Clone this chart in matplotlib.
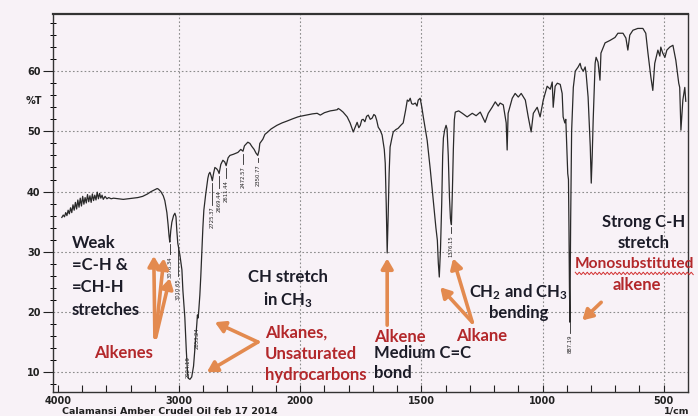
import numpy as np
import matplotlib.pyplot as plt

# IR spectrum, wavenumber (1/cm) vs transmittance (%T)
wavenumber = [
    3967, 3955, 3945, 3935, 3925, 3915, 3905, 3895, 3885, 3875, 3865, 3855,
    3845, 3835, 3825, 3815, 3805, 3795, 3785, 3775, 3765, 3755, 3745, 3735,
    3725, 3715, 3705, 3695, 3685, 3675, 3665, 3655, 3645, 3635, 3625, 3610,
    3595, 3580, 3560, 3540, 3500, 3460, 3420, 3380, 3340, 3300, 3260, 3230,
    3200, 3180, 3170, 3150, 3130, 3117, 3100, 3090, 3082, 3076, 3068, 3059,
    3045, 3034, 3025, 3018, 3010, 2993, 2976, 2968, 2952, 2940, 2930, 2924,
    2910, 2895, 2880, 2865, 2853, 2848, 2842, 2836, 2828, 2820, 2811, 2803,
    2795, 2780, 2770, 2762, 2754, 2745, 2735, 2725, 2715, 2704, 2690, 2679,
    2669, 2655, 2638, 2622, 2611, 2595, 2580, 2550, 2514, 2490, 2472, 2460,
    2432, 2415, 2399, 2380, 2365, 2350, 2340, 2333, 2308, 2291, 2267, 2240,
    2192, 2150, 2110, 2060, 2019, 2000, 1975, 1950, 1930, 1917, 1900, 1876,
    1860, 1847, 1843, 1835, 1823, 1806, 1794, 1781, 1772, 1765, 1758, 1752,
    1746, 1740, 1733, 1726, 1719, 1711, 1703, 1696, 1690, 1684, 1678, 1670,
    1662, 1653, 1649, 1645, 1641, 1637, 1633, 1629, 1622, 1616, 1605, 1596,
    1585, 1575, 1565, 1558, 1552, 1546, 1540, 1534, 1525, 1518, 1513, 1505,
    1498, 1492, 1476, 1463, 1451, 1440, 1434, 1430, 1426, 1421, 1416, 1412,
    1409, 1404, 1398, 1394, 1389, 1384, 1380, 1376, 1372, 1368, 1364, 1360,
    1346, 1331, 1311, 1290, 1274, 1257, 1237, 1224, 1208, 1195, 1183, 1175,
    1162, 1150, 1146, 1142, 1125, 1113, 1100, 1088, 1071, 1059, 1047, 1038,
    1022, 1010, 997, 981, 968, 960, 956, 948, 939, 927, 919, 915,
    908, 904, 900, 896, 893, 891, 889, 887, 884, 880, 873, 865,
    853, 845, 840, 832, 824, 820, 812, 803, 799, 795, 791, 783,
    779, 771, 763, 759, 742, 722, 701, 689, 668, 656, 648, 640,
    627, 607, 586, 574, 565, 553, 545, 537, 524, 516, 512, 504,
    495, 487, 475, 462, 450, 438, 434, 429, 421, 413, 409,
]
transmittance = [
    35.7, 36.1, 35.8, 36.5, 36.0, 36.9, 36.3, 37.3, 36.5, 37.8, 36.9, 38.2,
    37.1, 38.6, 37.4, 38.9, 37.6, 39.2, 37.9, 39.0, 38.1, 39.5, 38.3, 39.3,
    38.2, 39.6, 38.5, 39.4, 38.6, 39.9, 38.8, 39.7, 38.9, 39.4, 38.7, 39.2,
    38.8, 39.0, 38.8, 38.9, 38.8, 38.7, 38.8, 38.9, 39.0, 39.2, 39.6, 40.0,
    40.3, 40.5, 40.4, 40.0, 39.3, 38.5, 36.5, 34.5, 32.6, 31.6, 33.5, 34.9,
    36.0, 36.4, 35.8, 33.5, 31.4, 29.5, 27.0, 23.6, 19.1, 13.7, 10.0, 9.0,
    8.8, 9.2, 11.0, 14.8, 18.0, 19.5, 19.0, 20.5, 22.8, 26.0, 30.3, 34.0,
    36.9, 39.5, 41.0, 42.2, 42.9, 43.2, 42.6, 41.8, 43.0, 44.0, 43.8, 43.5,
    43.0, 44.5, 45.2, 44.9, 44.3, 45.6, 46.0, 46.2, 46.5, 47.0, 46.7, 47.6,
    48.2, 48.0, 47.5, 47.0, 46.4, 46.0, 46.8, 48.0, 48.7, 49.5, 49.9, 50.4,
    51.0, 51.4, 51.7, 52.1, 52.4, 52.5, 52.7, 52.9, 53.0, 52.7, 53.1, 53.4,
    53.5, 53.6, 53.8, 53.6, 53.2, 52.4, 51.4, 49.9, 50.8, 51.5, 50.6, 51.0,
    51.9, 52.0, 51.6, 52.5, 52.7, 52.0, 52.2, 52.8, 52.6, 51.8, 50.7, 50.2,
    49.4, 47.0, 44.7, 38.0, 29.8, 36.0, 43.0, 47.4, 48.8, 49.9, 50.3, 50.5,
    51.0, 51.4, 53.5, 55.2, 55.0, 55.5, 54.6, 54.5, 54.7, 54.2, 55.2, 55.5,
    54.0, 52.4, 48.5, 43.6, 38.6, 34.0, 31.9, 28.1, 25.8, 30.5, 38.0, 46.0,
    48.9, 50.2, 51.0, 50.4, 46.0, 39.0, 35.5, 34.5, 40.0, 47.0, 51.9, 53.2,
    53.4, 53.0, 52.4, 53.0, 52.6, 53.2, 51.5, 53.0, 54.0, 54.9, 54.2, 54.7,
    54.4, 51.4, 46.9, 53.0, 55.5, 56.3, 55.7, 56.3, 55.2, 52.4, 49.9, 53.0,
    54.0, 52.4, 55.2, 57.5, 57.0, 58.2, 54.0, 57.5, 58.0, 57.8, 56.3, 52.4,
    51.4, 52.0, 47.4, 43.0, 42.0, 34.1, 24.1, 18.3, 35.0, 50.0, 57.3, 60.0,
    60.7, 61.3, 60.5, 60.0, 60.7, 59.5, 55.7, 47.4, 41.4, 46.0, 51.9, 61.3,
    62.3, 61.5, 58.5, 63.0, 64.7, 65.1, 65.6, 66.3, 66.3, 65.5, 63.5, 66.0,
    66.8, 67.1, 67.1, 66.3, 63.0, 59.0, 56.8, 61.3, 63.5, 62.5, 64.0, 63.0,
    62.3, 63.5, 64.0, 64.3, 61.8, 58.0, 57.3, 50.2, 55.2, 57.3, 55.0,
]

# peak picks printed under the trace
peak_wn = [3076.34, 3010.65, 2924.19, 2853.24, 2725.37, 2669.44, 2611.44,
           2472.57, 2350.77, 1376.15, 887.19]
peak_label_top = [29.3, 25.6, 12.6, 17.5, 37.5, 40.3, 41.9, 44.3, 44.6, 32.8, 16.2]

BG = '#f8f2f7'
ORANGE = '#e38a4f'
RED = '#b3282b'
INK = '#1c1c28'

plt.rcParams['mathtext.fontset'] = 'custom'
plt.rcParams['mathtext.rm'] = 'Lato:bold'
plt.rcParams['mathtext.default'] = 'rm'

fig = plt.figure(figsize=(6.98, 4.16), dpi=100)
fig.patch.set_facecolor(BG)
ax = fig.add_axes([0.0759, 0.0577, 0.9097, 0.9087])
ax.set_facecolor(BG)


# 2x expanded scale below 2000 1/cm
def fwd(w):
    w = np.asarray(w, dtype=float)
    return np.where(w > 2000, 2000 + (w - 2000) / 2, w)


def inv(u):
    u = np.asarray(u, dtype=float)
    return np.where(u > 2000, 2000 + (u - 2000) * 2, u)


ax.set_xscale('function', functions=(fwd, inv))
ax.set_xlim(4040, 400)
ax.set_ylim(6.7, 69.5)

# dotted chart-paper grid
for y in range(10, 70, 10):
    ax.axhline(y, color='#8c8c8c', lw=0.8, ls=(0, (1.5, 2)), zorder=1)
for x in [3000, 2000, 1500, 1000, 500]:
    ax.axvline(x, color='#8c8c8c', lw=0.8, ls=(0, (1.5, 2)), zorder=1)

ax.plot(wavenumber, transmittance, color='#2a2a2a', lw=0.9, zorder=3)

# peak labels with leaders
wn_asc = np.array(wavenumber[::-1], dtype=float)
t_asc = np.array(transmittance[::-1], dtype=float)
for w, top in zip(peak_wn, peak_label_top):
    t_min = np.interp(w, wn_asc, t_asc)
    if t_min - 0.4 > top + 0.3:
        ax.plot([w, w], [t_min - 0.4, top + 0.3], color='#2a2a2a', lw=0.6, zorder=3)
    ax.text(w, top, f'{w:.2f}', rotation=90, ha='center', va='top',
            fontsize=3.8, color='#222222', zorder=4)

# ticks
ax.set_xticks([4000, 3000, 2000, 1500, 1000, 500])
minor_x = [3800, 3600, 3400, 3200, 2800, 2600, 2400, 2200]
minor_x += [w for w in range(1900, 500, -100) if w not in (1500, 1000)]
ax.set_xticks(minor_x, minor=True)
ax.set_yticks(range(10, 70, 10))
ax.set_yticks([v for v in range(8, 70, 2) if v % 10], minor=True)
ax.tick_params(axis='x', which='both', direction='in', length=5, width=0.8,
               pad=3, labelsize=7, colors='#222222')
ax.tick_params(axis='y', which='major', direction='out', length=7, width=0.8,
               pad=2, labelsize=7, colors='#222222')
ax.tick_params(axis='y', which='minor', direction='inout', length=4, width=0.7)
for lab in ax.get_xticklabels() + ax.get_yticklabels():
    lab.set_fontweight('bold')

for side in ['left', 'right', 'bottom']:
    ax.spines[side].set_color('#333333')
    ax.spines[side].set_linewidth(1.0)
ax.spines['top'].set_color('#333333')
ax.spines['top'].set_linewidth(1.6)

fig.text(34 / 698, 1 - 101 / 416, '%T', fontsize=7, fontweight='bold',
         color='#222222', ha='center', va='center')
fig.text(62 / 698, 1 - 411 / 416, 'Calamansi Amber Crudel Oil feb 17 2014',
         fontsize=6.8, fontweight='bold', color='#222222', ha='left', va='center')
fig.text(677 / 698, 1 - 411 / 416, '1/cm', fontsize=6.8, fontweight='bold',
         color='#222222', ha='center', va='center')

# band assignments
note = dict(fontsize=12, fontfamily='Lato', fontweight='bold', va='center',
            clip_on=False, zorder=5)
for t, y in zip(['Weak', '=C-H &', '=CH-H', 'stretches'], [31.4, 27.8, 24.1, 20.3]):
    ax.text(3884, y, t, color=INK, ha='left', **note)
ax.text(3455, 13.2, 'Alkenes', color=RED, ha='center', **note)
ax.text(2101, 25.8, 'CH stretch', color=INK, ha='center', **note)
ax.text(2101, 22.0, r'in CH$_3$', color=INK, ha='center', **note)
for t, y in zip(['Alkanes,', 'Unsaturated', 'hydrocarbons'], [16.5, 13.0, 9.5]):
    ax.text(2291, y, t, color=RED, ha='left', **note)
ax.text(1695, 15.8, 'Alkene', color=RED, ha='left', **note)
ax.text(1695, 13.2, 'Medium C=C', color=INK, ha='left', **note)
ax.text(1695, 9.8, 'bond', color=INK, ha='left', **note)
ax.text(1356, 16.0, 'Alkane', color=RED, ha='left', **note)
ax.text(1100, 23.3, r'CH$_2$ and CH$_3$', color=INK, ha='center', **note)
ax.text(1100, 19.8, 'bending', color=INK, ha='center', **note)
ax.text(584, 34.9, 'Strong C-H', color=INK, ha='center', **note)
ax.text(584, 31.4, 'stretch', color=INK, ha='center', **note)
# long word kept a touch smaller so it stays inside the figure
ax.text(869, 27.9, 'Monosubstituted', color=RED, ha='left',
        **{**note, 'fontsize': 11.2})
ax.text(609, 24.5, 'alkene', color=RED, ha='center', **note)

# spell-check squiggle under the long word
sq_x = np.arange(865, 372, -8.25)
sq_y = 26.4 + np.where(np.arange(len(sq_x)) % 2 == 0, 0.2, -0.2)
ax.plot(sq_x, sq_y, color='#d23030', lw=0.7, clip_on=False, zorder=5)

arrows = [
    ((3199, 15.8), (3208, 29.3)),
    ((3195, 15.8), (3125, 28.9)),
    ((3192, 15.8), (3076, 25.6)),
    ((2349, 15.0), (2704, 18.3)),
    ((2349, 15.0), (2770, 10.0)),
    ((1641, 17.8), (1641, 28.9)),
    ((1290, 18.3), (1422, 24.1)),
    ((1290, 18.3), (1369, 28.9)),
    ((758, 21.6), (836, 18.6)),
]
for tail, head in arrows:
    ax.annotate('', xy=head, xytext=tail, annotation_clip=False,
                arrowprops=dict(arrowstyle='-|>,head_width=0.35,head_length=0.6',
                                color=ORANGE, lw=2.6, shrinkA=0, shrinkB=0),
                zorder=6)

fig.savefig('out.png', dpi=100, facecolor=BG)
